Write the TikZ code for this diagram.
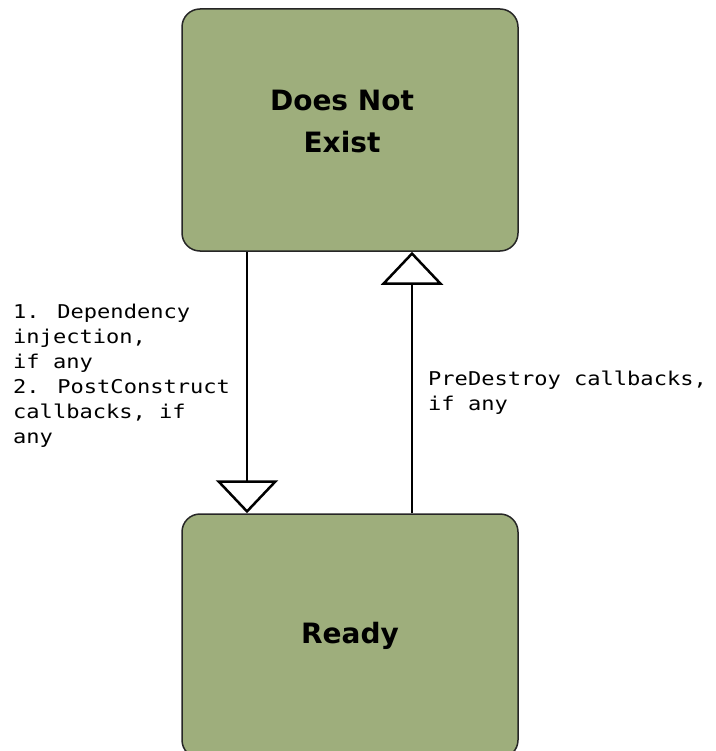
\documentclass[tikz,border=0pt]{standalone}
\usepackage{fontspec}
\usepackage[table]{xcolor}
\usetikzlibrary{arrows.meta,positioning}

\newfontfamily\statefont{DejaVu Sans}
\newfontfamily\notefont[FakeStretch=1.16]{DejaVu Sans Mono}
\definecolor{stategreen}{RGB}{158,174,124}

\begin{document}
\begin{tikzpicture}[x=1pt,y=-1pt,
	state/.style={rectangle, rounded corners=18pt, draw=black!85, line width=1.5pt, fill=stategreen, minimum width=336pt},
	statetext/.style={align=center, inner sep=0pt, font=\statefont\bfseries\fontsize{28}{42}\selectfont},
	note/.style={align=left, inner sep=0pt, anchor=north west, font=\notefont\fontsize{19}{25}\selectfont},
	trans/.style={line width=2.5pt, -{Triangle[open, width=62pt, length=33pt]}}]
\useasboundingbox (0,0) rectangle (715,751);
% states
\node [state, minimum height=242pt] (dne) at (350,130) {};
\node [statetext] (dnetext) at (342,121) {Does Not\\Exist};
\node [state, minimum height=244pt] (ready) at (350,636) {};
\node [statetext, anchor=base] (readytext) at (350,643) {Ready};
% transitions
\draw [trans] ([xshift=-103pt]dne.south) -- ([xshift=-103pt]ready.north);
\draw [trans] ([xshift=62pt]ready.north) -- ([xshift=62pt]dne.south);
\node [note] (create) at (13,304) {1. Dependency\\injection,\\if any\\2. PostConstruct\\callbacks, if\\any};
\node [note] (destroy) at (428,370.5) {PreDestroy callbacks,\\if any};
\end{tikzpicture}
\end{document}
